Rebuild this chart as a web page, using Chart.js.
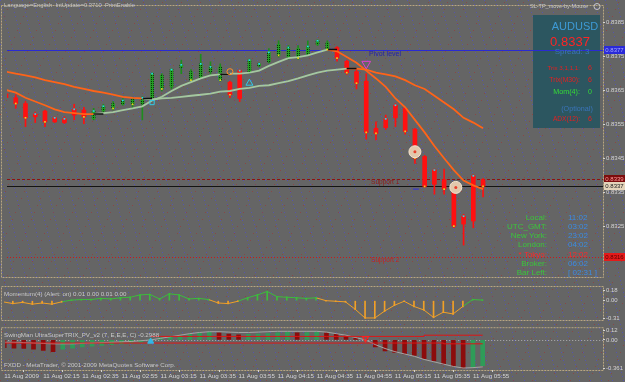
<!DOCTYPE html>
<html>
<head>
<meta charset="utf-8">
<script src="https://cdn.jsdelivr.net/npm/chart.js@4.4.0/dist/chart.umd.min.js"></script>
<style>
  html, body { margin: 0; padding: 0; background: #666; }
  #wrap { position: relative; width: 625px; height: 382px; overflow: hidden; }
  #wrap canvas { position: absolute; left: 0; }
</style>
</head>
<body>
<div id="wrap">
  <canvas id="bg" width="625" height="382" style="top:0"></canvas>
  <canvas id="price-chart" width="625" height="284" style="top:0"></canvas>
  <canvas id="mom-chart" width="625" height="40" style="top:284px"></canvas>
  <canvas id="trix-chart" width="625" height="58" style="top:324px"></canvas>
</div>
<script>
// AUDUSD M5, bar 0 = 11 Aug 2009 01:55
const barOpen  = [0.83640,0.83628,0.83611,0.83580,0.83589,0.83569,0.83566,0.83594,0.83592,0.83566,
                  0.83589,0.83597,0.83609,0.83609,0.83611,0.83628,0.83654,0.83660,0.83717,0.83680,
                  0.83688,0.83705,0.83680,0.83674,0.83708,0.83702,0.83722,0.83734,0.83753,0.83748,
                  0.83745,0.83756,0.83785,0.83770,0.83776,0.83736,0.83705,0.83677,0.83538,0.83566,
                  0.83606,0.83597,0.83535,0.83455,0.83415,0.83387,0.83373,0.83279,0.83398,0.83387];
const barHigh  = [0.83643,0.83637,0.83617,0.83586,0.83592,0.83572,0.83572,0.83609,0.83600,0.83597,
                  0.83609,0.83617,0.83626,0.83628,0.83631,0.83702,0.83699,0.83714,0.83739,0.83711,
                  0.83756,0.83734,0.83728,0.83677,0.83711,0.83742,0.83731,0.83773,0.83796,0.83782,
                  0.83782,0.83796,0.83799,0.83796,0.83779,0.83739,0.83711,0.83699,0.83557,0.83577,
                  0.83611,0.83600,0.83538,0.83458,0.83418,0.83418,0.83376,0.83285,0.83401,0.83390];
const barLow   = [0.83623,0.83597,0.83543,0.83555,0.83543,0.83555,0.83552,0.83563,0.83552,0.83563,
                  0.83583,0.83592,0.83606,0.83600,0.83563,0.83626,0.83648,0.83654,0.83699,0.83677,
                  0.83685,0.83697,0.83677,0.83628,0.83617,0.83699,0.83719,0.83731,0.83748,0.83742,
                  0.83742,0.83753,0.83782,0.83768,0.83736,0.83697,0.83654,0.83506,0.83504,0.83535,
                  0.83543,0.83521,0.83435,0.83364,0.83344,0.83344,0.83245,0.83194,0.83245,0.83336];
const barClose = [0.83628,0.83611,0.83569,0.83572,0.83557,0.83557,0.83555,0.83577,0.83572,0.83589,
                  0.83603,0.83611,0.83620,0.83623,0.83628,0.83699,0.83694,0.83711,0.83725,0.83705,
                  0.83728,0.83719,0.83719,0.83637,0.83626,0.83739,0.83728,0.83762,0.83785,0.83776,
                  0.83773,0.83779,0.83796,0.83790,0.83745,0.83702,0.83671,0.83526,0.83523,0.83540,
                  0.83569,0.83529,0.83450,0.83367,0.83373,0.83359,0.83250,0.83256,0.83265,0.83367];

// dots on the bodies
const cyanDots   = [3,5,6,7,9,10,12,14,15,17,18,20,21,24,25,26,27,29,31,32,39,40,44,47,48];
const yellowDots = [1,2,4,8,11,13,16,19,22,23,28,30,33,34,35,36,37,38,41,42,43,45,46,49];

// moving averages
const maFast = [0.83651,0.83643,0.83628,0.83617,0.83606,0.83594,0.83586,0.83583,0.83580,0.83580,
                0.83583,0.83586,0.83592,0.83597,0.83603,0.83620,0.83631,0.83648,0.83663,0.83674,
                0.83685,0.83694,0.83697,0.83699,0.83699,0.83702,0.83708,0.83722,0.83734,0.83745,
                0.83748,0.83753,0.83762,0.83770,0.83765,0.83748,0.83731,0.83708,0.83685,0.83660,
                0.83626,0.83600,0.83563,0.83526,0.83486,0.83450,0.83415,0.83384,0.83370,0.83359];
const maSlow = [0.83705,0.83699,0.83694,0.83688,0.83680,0.83674,0.83668,0.83660,0.83654,0.83648,
                0.83643,0.83637,0.83631,0.83628,0.83626,0.83623,0.83626,0.83628,0.83631,0.83634,
                0.83637,0.83640,0.83646,0.83648,0.83654,0.83657,0.83663,0.83665,0.83671,0.83677,
                0.83685,0.83694,0.83702,0.83708,0.83711,0.83714,0.83714,0.83711,0.83702,0.83697,
                0.83691,0.83680,0.83665,0.83654,0.83634,0.83614,0.83594,0.83569,0.83555,0.83538];
const fastTurns = [9, 33];
const slowTurns = [14, 35];
const crossMarks = [['fast', 9], ['slow', 14], ['fast', 22], ['fast', 33], ['slow', 35]];

// arrows and signs on the price chart
const arrowUp   = [{ x: 25, y: 0.83671 }];
const arrowDown = [{ x: 37, y: 0.83728 }];
const thumbMark = [{ x: 15, y: 0.83614 }];
const ringMark  = [{ x: 23, y: 0.83705 }];
const discMarks = [{ x: 42, y: 0.83469 }, { x: 46.2, y: 0.83364 }];
const dashMark  = [{ x: 42.1, y: 0.83359 }];

const pivotLevel = 0.8377;
const support1 = 0.8339;
const support2 = 0.8316;
const priceTicks = [0.8385, 0.8375, 0.8365, 0.8355, 0.8345, 0.8335, 0.8325];

// Momentum(4)
const momentum = [-0.02,-0.05,-0.03,-0.06,-0.04,-0.06,-0.02, 0.01, 0.02, 0.02,
                   0.04, 0.03, 0.05, 0.06, 0.10, 0.11, 0.03, 0.12, 0.10, 0.03,
                   0.04, 0.02,-0.04,-0.05,-0.01, 0.05, 0.10, 0.16, 0.07, 0.06,
                   0.05, 0.04, 0.05, 0.00,-0.01,-0.02,-0.15,-0.30,-0.30,-0.18,
                  -0.08,-0.01,-0.10,-0.16,-0.29,-0.20,-0.23,-0.10, 0.02, 0.01];
const momTicks = [0.18, 0, -0.31];

// SwingMan UltraSuperTRIX
const trixHist = [-0.100,-0.105,-0.110,-0.120,-0.135,-0.150,-0.120,-0.105,-0.090,-0.080,
                  -0.070,-0.060,-0.050,-0.040,-0.030, 0.010, 0.025, 0.040, 0.055, 0.070,
                   0.085, 0.100, 0.090, 0.075, 0.065, 0.070, 0.075, 0.080, 0.090, 0.100,
                   0.090, 0.095, 0.100, 0.090, 0.075, 0.055, 0.025, 0.005,-0.090,-0.140,
                  -0.160,-0.180,-0.200,-0.240,-0.270,-0.310,-0.340,-0.360,-0.350,-0.330];
const trixSignal = [-0.030,-0.030,-0.035,-0.040,-0.045,-0.050,-0.050,-0.050,-0.045,-0.040,
                    -0.035,-0.030,-0.025,-0.020,-0.010, 0.000, 0.020, 0.040, 0.060, 0.080,
                     0.095, 0.105, 0.105, 0.100, 0.095, 0.095, 0.100, 0.105, 0.110, 0.110,
                     0.110, 0.110, 0.110, 0.100, 0.080, 0.060, 0.030, 0.000,-0.060,-0.110,
                    -0.150,-0.180,-0.210,-0.250,-0.280,-0.310,-0.340,-0.360,-0.355,-0.345];
const trixLower = [-0.04,-0.04,-0.04,-0.04,-0.04,-0.04,-0.04,-0.04,-0.04,-0.04,
                   -0.04,-0.04,-0.04,-0.04,-0.04,-0.04,-0.04,-0.04,-0.04,-0.04,
                   -0.04,-0.04,-0.04,-0.04,-0.04,-0.04,-0.04,-0.04,-0.04,-0.04,
                   -0.04,-0.04,-0.04,-0.04,-0.04,-0.04,-0.04,-0.04,-0.04,-0.04,
                   -0.04,-0.04,-0.04,-0.04,-0.04,-0.05,-0.05,-0.05,-0.05,-0.05];
const trixUpper = [null,null,null,null,null,null,null,null,null,null,
                   null,null,null,null,null,0.045,0.045,0.045,0.045,0.045,
                   0.045,0.045,0.045,0.045,0.045,0.045,0.045,0.045,0.045,0.045,
                   0.045,0.045,0.045,0.045,0.045,0.045,0.045,0.045,0.045,0.045,
                   0.045,0.045,0.045,0.06,0.06,0.06,0.06,0.06,0.06,0.06];
const trixUp   = [{ x: 15, y: -0.02 }];
const trixDown = [{ x: 37, y: 0.02 }];
const trixTicks = [0.12, 0, -0.361];

const timeTicks  = [0, 4, 8, 12, 16, 20, 24, 28, 32, 36, 40, 44, 48];
const timeLabels = ['11 Aug 2009', '11 Aug 02:15', '11 Aug 02:35', '11 Aug 02:55', '11 Aug 03:15',
                    '11 Aug 03:35', '11 Aug 03:55', '11 Aug 04:15', '11 Aug 04:35', '11 Aug 04:55',
                    '11 Aug 05:15', '11 Aug 05:35', '11 Aug 05:55'];

const clockNames = ['Local:', 'UTC_GMT:', 'New York:', 'London:', '* Tokyo:', 'Broker:', 'Bar Left:'];
const clockTimes = ['11:02', '03:02', '23:02', '04:02', '12:02', '06:02', '[ 02:31 ]'];

// ---- look ----
const FONT = '"Liberation Sans", Arial, sans-serif';
const frameColor = '#b8a682';
const axisText = '#d4d4d4';
const orange = '#ff6418';
const paleGreen = '#a4c8a0';
const xMin = 0.1, xMax = 61.32;

Chart.defaults.font.family = FONT;
Chart.defaults.animation = false;

// background with the dotted texture
(function () {
  const c = document.getElementById('bg').getContext('2d');
  c.fillStyle = '#656565';
  c.fillRect(0, 0, 625, 382);
  for (let y = 0; y < 382; y += 4) {
    for (let x = 0; x < 625; x += 11) {
      c.fillStyle = 'rgba(80,80,200,0.75)';
      c.fillRect(x + (y * 3) % 11, y, 1, 1);
    }
  }
  for (let y = 2; y < 382; y += 7) {
    for (let x = 0; x < 625; x += 19) {
      c.fillStyle = 'rgba(150,60,60,0.7)';
      c.fillRect(x + (y * 5) % 19, y, 1, 1);
    }
  }
})();

function dotPattern() {
  const c = document.createElement('canvas');
  c.width = 2; c.height = 2;
  const g = c.getContext('2d');
  g.fillStyle = '#22a022'; g.fillRect(0, 0, 2, 2);
  g.fillStyle = '#0a300a'; g.fillRect(1, 1, 1, 1);
  return g.createPattern(c, 'repeat');
}
const greenDots = dotPattern();

function txt(ctx, s, x, y, color, size, align) {
  ctx.font = size + 'px ' + FONT;
  ctx.fillStyle = color;
  ctx.textAlign = align || 'left';
  ctx.textBaseline = 'middle';
  ctx.fillText(s, x, y);
}

function hline(ctx, a, y, color, dash) {
  const yy = Math.round(y) + 0.5;
  ctx.strokeStyle = color;
  ctx.lineWidth = 1;
  ctx.setLineDash(dash);
  ctx.beginPath();
  ctx.moveTo(a.left, yy);
  ctx.lineTo(a.right, yy);
  ctx.stroke();
  ctx.setLineDash([]);
}

const panelFrame = {
  id: 'panelFrame',
  beforeDraw(chart) {
    const { ctx, chartArea: a } = chart;
    ctx.save();
    ctx.strokeStyle = frameColor;
    ctx.lineWidth = 1;
    ctx.setLineDash([2, 1]);
    ctx.strokeRect(1.5, a.top - 1.5, a.right - 1, a.bottom - a.top + 2);
    ctx.restore();
  }
};

function fixAxisWidth(s) {
  s.width = 22;
  s.paddingTop = 0;
  s.paddingBottom = 0;
}

function rightAxis(min, max, ticks, fmt) {
  return {
    position: 'right', min: min, max: max, beginAtZero: false,
    afterBuildTicks: s => { s.ticks = ticks.map(v => ({ value: v })); },
    afterFit: fixAxisWidth,
    grid: { drawOnChartArea: false, drawTicks: true, tickLength: 2, color: axisText },
    border: { display: false },
    ticks: { color: axisText, font: { size: 6 }, padding: 1, autoSkip: false, callback: fmt }
  };
}

const hiddenX = { type: 'linear', min: xMin, max: xMax, offset: false, display: false };

// ---- price chart ----
const priceOverlay = {
  id: 'priceOverlay',
  beforeDatasetsDraw(chart) {
    const { ctx, chartArea: a } = chart;
    const y = chart.scales.y;
    ctx.save();
    ctx.fillStyle = '#2c5660';
    ctx.fillRect(533, 15, 67, 113);
    hline(ctx, a, y.getPixelForValue(support1), '#8e1212', [3, 2]);
    hline(ctx, a, y.getPixelForValue(support2), '#c81a1a', [1, 2]);
    hline(ctx, a, y.getPixelForValue(barClose[barClose.length - 1]), '#141414', []);
    hline(ctx, a, y.getPixelForValue(pivotLevel), '#2a2ad2', []);
    ctx.restore();
  },
  afterDatasetsDraw(chart) {
    const { ctx } = chart;
    const x = chart.scales.x, y = chart.scales.y;
    ctx.save();
    const lx = x.getPixelForValue(37.5);
    txt(ctx, 'Pivot level', lx - 2, y.getPixelForValue(pivotLevel) + 4, '#2424a8', 7);
    txt(ctx, 'Support 1', lx, y.getPixelForValue(support1) + 4, '#8e1a1a', 6.5);
    txt(ctx, 'Support 2', lx, y.getPixelForValue(support2) + 4, '#c02424', 6.5);

    txt(ctx, 'Language=English  IntUpdate=0.3710  PrintEnable', 4, 5.5, '#c4c4c4', 5.8);
    txt(ctx, 'SL-TP_move-by-Mouse', 530, 6.5, '#c8c8c8', 5.5);
    ctx.strokeStyle = '#c8c8c8';
    ctx.beginPath(); ctx.arc(597, 6.5, 3, 0, Math.PI * 2); ctx.stroke();

    // terminal box
    txt(ctx, 'AUDUSD', 575, 27, '#3e9ad6', 11, 'center');
    txt(ctx, barClose[barClose.length - 1].toFixed(4), 570, 42, '#ff2424', 13, 'center');
    txt(ctx, 'Spread: 3', 572, 52, '#3a74ba', 8, 'center');
    txt(ctx, 'Trix 3,1,1,1:', 580, 68, '#e42020', 6.2, 'right');
    txt(ctx, '6', 590, 68, '#e42020', 7, 'center');
    txt(ctx, 'Trix(M30):', 580, 80, '#e42020', 6.8, 'right');
    txt(ctx, '6', 590, 80, '#e42020', 7, 'center');
    txt(ctx, 'Mom(4):', 580, 92, '#36dc36', 7.2, 'right');
    txt(ctx, '0', 590, 92, '#36dc36', 7, 'center');
    txt(ctx, '(Optional)', 577, 109, '#3a74ba', 7.2, 'center');
    txt(ctx, 'ADX(12):', 580, 119, '#e42020', 6.6, 'right');
    txt(ctx, '6', 590, 119, '#e42020', 7, 'center');

    // clocks
    clockNames.forEach((n, i) => {
      const yy = 217.5 + i * 9.2;
      const red = n.indexOf('Tokyo') >= 0;
      txt(ctx, n, 547, yy, red ? '#ff2828' : '#3cc43c', 8, 'right');
      txt(ctx, clockTimes[i], 568, yy, red ? '#ff2828' : '#3c8ce0', 8);
    });
    ctx.restore();
  },
  afterDraw(chart) {
    const { ctx } = chart;
    const y = chart.scales.y;
    const boxes = [[pivotLevel, '#2a2ad8', '#a8a8ff'],
                   [support1, '#7c0c0c', '#ff9a9a'],
                   [barClose[barClose.length - 1], '#e4d4ba', '#202020'],
                   [support2, '#e41a1a', '#5a0000']];
    ctx.save();
    boxes.forEach(([v, bg, fg]) => {
      const py = Math.round(y.getPixelForValue(v));
      ctx.fillStyle = bg;
      ctx.fillRect(604, py - 4, 21, 8);
      txt(ctx, v.toFixed(4), 614.5, py + 0.5, fg, 6, 'center');
    });
    ctx.restore();
  }
};

const idx = barOpen.map((_, i) => i);
const isUp = i => barClose[i] >= barOpen[i];
const segColor = (turns) => ctx => {
  const i = ctx.p0DataIndex;
  return (i < turns[0] || i >= turns[1]) ? orange : paleGreen;
};
const crossData = [];
crossMarks.forEach(([line, i]) => {
  const v = (line === 'fast' ? maFast : maSlow)[i];
  crossData.push({ x: i, y: v }, { x: i + 1, y: v }, { x: i + 1.5, y: null });
});

new Chart(document.getElementById('price-chart'), {
  type: 'bar',
  data: {
    datasets: [
      { type: 'line', order: 0, data: arrowUp, showLine: false, pointStyle: 'triangle',
        pointRadius: 4, pointBackgroundColor: 'rgba(0,0,0,0)', pointBorderColor: '#30c8e8', pointBorderWidth: 1 },
      { type: 'line', order: 0, data: arrowDown, showLine: false, pointStyle: 'triangle', rotation: 180,
        pointRadius: 5, pointBackgroundColor: 'rgba(0,0,0,0)', pointBorderColor: '#e040d0', pointBorderWidth: 1 },
      { type: 'line', order: 0, data: thumbMark, showLine: false, pointStyle: 'rect',
        pointRadius: 3, pointBackgroundColor: 'rgba(0,0,0,0)', pointBorderColor: '#30c8e8', pointBorderWidth: 1 },
      { type: 'line', order: 0, data: ringMark, showLine: false, pointStyle: 'circle',
        pointRadius: 3, pointBackgroundColor: 'rgba(0,0,0,0)', pointBorderColor: '#ff8c28', pointBorderWidth: 1 },
      { type: 'line', order: 0, data: discMarks, showLine: false, pointStyle: 'circle',
        pointRadius: 1.5, pointBackgroundColor: '#e8402c', pointBorderWidth: 0 },
      { type: 'line', order: 0.5, data: discMarks, showLine: false, pointStyle: 'circle',
        pointRadius: 6, pointBackgroundColor: '#e2c8ac', pointBorderColor: '#f4e4d0', pointBorderWidth: 1 },
      { type: 'line', order: 0, data: dashMark, showLine: false, pointStyle: 'line',
        pointRadius: 3, pointBorderColor: '#3030e0', pointBorderWidth: 1 },
      { type: 'line', order: 1, data: cyanDots.map(i => ({ x: i, y: Math.max(barOpen[i], barClose[i]) })),
        showLine: false, pointStyle: 'rect', pointRadius: 1.2, pointBackgroundColor: '#28d8e8', pointBorderWidth: 0 },
      { type: 'line', order: 1, data: yellowDots.map(i => ({ x: i, y: Math.min(barOpen[i], barClose[i]) })),
        showLine: false, pointStyle: 'rect', pointRadius: 1.2, pointBackgroundColor: '#e8d020', pointBorderWidth: 0 },
      { type: 'line', order: 2, data: crossData, borderColor: '#101010', borderWidth: 1.5,
        pointRadius: 0, spanGaps: false },
      { type: 'line', order: 3, data: idx.map(i => ({ x: i, y: maFast[i] })), borderWidth: 1.8,
        pointRadius: 0, borderColor: orange, segment: { borderColor: segColor(fastTurns) } },
      { type: 'line', order: 3, data: idx.map(i => ({ x: i, y: maSlow[i] })), borderWidth: 1.8,
        pointRadius: 0, borderColor: orange, segment: { borderColor: segColor(slowTurns) } },
      { order: 4, grouped: false, barThickness: 4,
        data: idx.filter(i => !isUp(i)).map(i => ({ x: i, y: [barClose[i], barOpen[i]] })),
        backgroundColor: '#ff1010', borderWidth: 0 },
      { order: 4, grouped: false, barThickness: 3,
        data: idx.filter(isUp).map(i => ({ x: i, y: [barOpen[i], barClose[i]] })),
        backgroundColor: greenDots, borderWidth: 0 },
      { order: 5, grouped: false, barThickness: 1,
        data: idx.map(i => ({ x: i, y: [barLow[i], barHigh[i]] })),
        backgroundColor: c => isUp(c.dataIndex) ? '#1e8c1e' : '#ff1010', borderWidth: 0 }
    ]
  },
  options: {
    responsive: false,
    layout: { padding: { left: 3, top: 3, right: 0, bottom: 1 } },
    plugins: { legend: { display: false }, tooltip: { enabled: false } },
    scales: {
      x: hiddenX,
      y: rightAxis(0.8310, 0.838955, priceTicks, v => v.toFixed(4))
    }
  },
  plugins: [panelFrame, priceOverlay]
});

// ---- momentum ----
const momColor = v => v > 0 ? '#3cbc3c' : '#f0a028';
new Chart(document.getElementById('mom-chart'), {
  type: 'bar',
  data: {
    datasets: [
      { type: 'line', data: idx.map(i => ({ x: i, y: momentum[i] })), borderWidth: 1,
        borderColor: '#3cbc3c', segment: { borderColor: c => momColor(c.p1.parsed.y) },
        pointStyle: 'rect', pointRadius: 1, pointBorderWidth: 0,
        pointBackgroundColor: c => momColor(momentum[c.dataIndex]) },
      { grouped: false, barThickness: 1, data: idx.map(i => ({ x: i, y: momentum[i] })),
        backgroundColor: c => momColor(momentum[c.dataIndex]), borderWidth: 0 }
    ]
  },
  options: {
    responsive: false,
    layout: { padding: { left: 3, top: 3, right: 0, bottom: 1 } },
    plugins: { legend: { display: false }, tooltip: { enabled: false } },
    scales: {
      x: hiddenX,
      y: rightAxis(-0.335, 0.22, momTicks, v => v.toFixed(2))
    }
  },
  plugins: [panelFrame, {
    id: 'momLabel',
    afterDraw(chart) {
      txt(chart.ctx, 'Momentum(4) (Alert: on) 0.01 0.00 0.01 0.00', 4, chart.chartArea.top + 6, '#c8c8c8', 6.2);
    }
  }]
});

// ---- TRIX + time axis ----
const trixColor = i => (i > 0 && trixHist[i] > trixHist[i - 1]) ? '#2f9c58' : '#8c0c0c';
new Chart(document.getElementById('trix-chart'), {
  type: 'bar',
  data: {
    datasets: [
      { type: 'line', order: 0, data: trixUp, showLine: false, pointStyle: 'triangle',
        pointRadius: 3.5, pointBackgroundColor: '#30b8e8', pointBorderColor: '#30b8e8' },
      { type: 'line', order: 0, data: trixDown, showLine: false, pointStyle: 'triangle', rotation: 180,
        pointRadius: 3.5, pointBackgroundColor: 'rgba(0,0,0,0)', pointBorderColor: '#ff2020', pointBorderWidth: 1.2 },
      { type: 'line', order: 1, data: idx.map(i => ({ x: i, y: trixLower[i] })), stepped: true,
        borderColor: '#e01414', borderWidth: 1, pointRadius: 0 },
      { type: 'line', order: 1, data: idx.map(i => ({ x: i, y: trixUpper[i] })), stepped: true,
        borderColor: '#e01414', borderWidth: 1, pointRadius: 0 },
      { type: 'line', order: 2, data: idx.map(i => ({ x: i, y: trixSignal[i] })),
        borderColor: '#a4a4a4', borderWidth: 1, pointRadius: 0 },
      { order: 3, grouped: false, barThickness: 4, data: idx.map(i => ({ x: i, y: trixHist[i] })),
        backgroundColor: c => trixColor(c.dataIndex), borderWidth: 0 }
    ]
  },
  options: {
    responsive: false,
    layout: { padding: { left: 3, top: 2, right: 0, bottom: 0 } },
    plugins: { legend: { display: false }, tooltip: { enabled: false } },
    scales: {
      x: {
        type: 'linear', min: xMin, max: xMax, offset: false,
        afterBuildTicks: s => { s.ticks = timeTicks.map(v => ({ value: v })); },
        afterFit: s => { s.height = 12; s.paddingLeft = 0; s.paddingRight = 0; },
        grid: { drawOnChartArea: false, drawTicks: true, tickLength: 2, color: axisText },
        border: { display: false },
        ticks: { color: axisText, font: { size: 6.2 }, padding: 1, autoSkip: false,
                 maxRotation: 0, minRotation: 0, align: 'start',
                 callback: v => timeLabels[timeTicks.indexOf(v)] }
      },
      y: rightAxis(-0.385, 0.137, trixTicks, v => v === -0.361 ? '-0.361' : v.toFixed(2))
    }
  },
  plugins: [panelFrame, {
    id: 'trixExtras',
    beforeDatasetsDraw(chart) {
      const { ctx, chartArea: a } = chart;
      ctx.save();
      hline(ctx, a, chart.scales.y.getPixelForValue(0), '#b0b0b0', [1, 2]);
      ctx.restore();
    },
    afterDraw(chart) {
      const { ctx, chartArea: a } = chart;
      txt(ctx, 'SwingMan UltraSuperTRIX_PV_v2 (7, E,E,E, C) -0.2988', 4, a.top + 6, '#c8c8c8', 6.2);
      txt(ctx, 'FXDD - MetaTrader, \u00a9 2001-2009 MetaQuotes Software Corp.', 4, a.bottom - 5, '#c8c8c8', 6.2);
    }
  }]
});
</script>
</body>
</html>
